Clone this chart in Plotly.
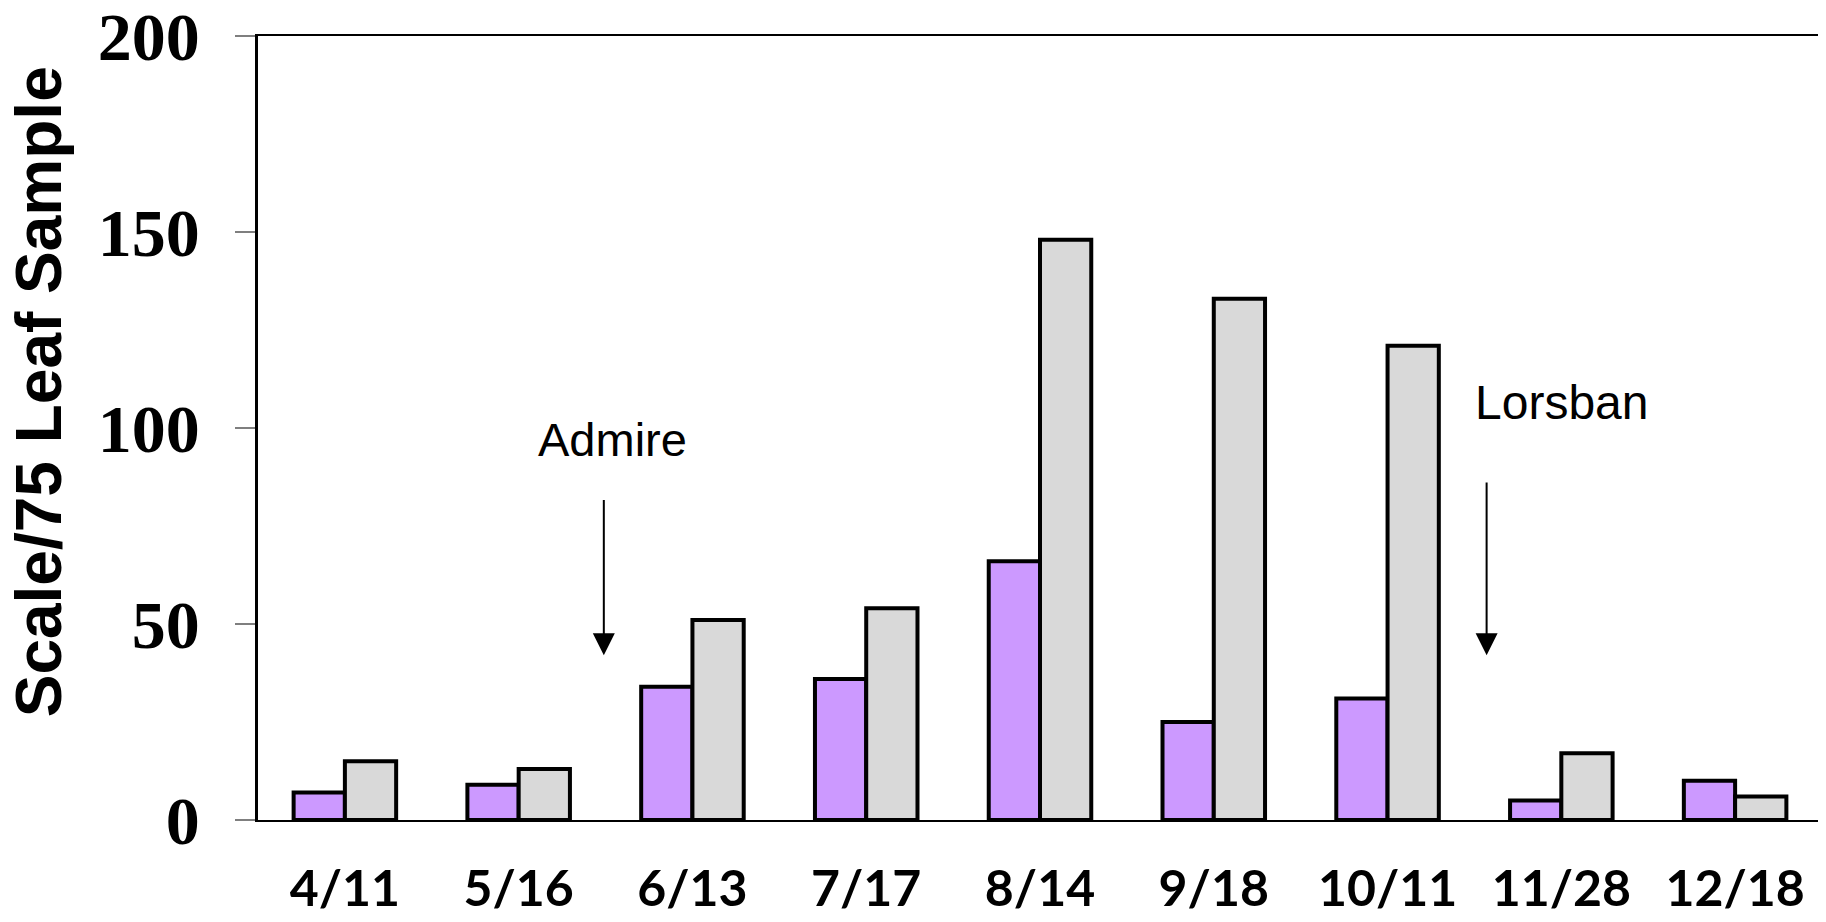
import plotly.graph_objects as go

dates = ["4/11", "5/16", "6/13", "7/17", "8/14", "9/18", "10/11", "11/28", "12/18"]
series_a = [7, 9, 34, 36, 66, 25, 31, 5, 10]
series_b = [15, 13, 51, 54, 148, 133, 121, 17, 6]
y_ticks = [0, 50, 100, 150, 200]

xs = list(range(len(dates)))

fig = go.Figure()
fig.add_trace(go.Bar(x=xs, y=series_a, marker=dict(color="#CC99FF", line=dict(color="black", width=4)), showlegend=False))
fig.add_trace(go.Bar(x=xs, y=series_b, marker=dict(color="#D9D9D9", line=dict(color="black", width=4)), showlegend=False))

fig.update_layout(
    width=1818, height=914,
    margin=dict(l=250, r=4, t=28, b=102),
    paper_bgcolor="white", plot_bgcolor="white",
    barmode="group", bargap=0.41, bargroupgap=0,
    xaxis=dict(
        automargin=False,
        range=[-0.5, len(dates) - 0.5],
        tickvals=xs, ticktext=dates,
        showline=True, linecolor="black", linewidth=2, mirror=True,
        showgrid=False, zeroline=False, ticks="",
        ticklabelstandoff=24, ticklabeloverflow="allow",
        tickfont=dict(family="Lato", size=50, color="black", weight="bold"),
    ),
    yaxis=dict(
        automargin=False,
        range=[0, 200], tickvals=y_ticks,
        showline=True, linecolor="black", linewidth=2.5, mirror=True,
        showgrid=False, zeroline=False,
        ticks="outside", ticklen=20, tickcolor="#7f7f7f", tickwidth=1.5,
        ticklabelstandoff=22, ticklabeloverflow="allow",
        tickfont=dict(family="Liberation Serif", size=68, color="black", weight="bold"),
    ),
)

fig.add_annotation(
    text="Scale/75 Leaf Sample", textangle=-90,
    xref="paper", yref="paper", x=-0.1395, y=0.5466,
    xanchor="center", yanchor="middle", showarrow=False,
    font=dict(family="Liberation Sans", size=64, color="black", weight="bold"),
)

# treatment labels and arrows
fig.add_annotation(text="Admire", x=1.54, y=97, xref="x", yref="y", showarrow=False,
                   font=dict(family="Liberation Sans", size=47, color="black"))
fig.add_annotation(text="", x=1.49, y=42, ax=1.49, ay=82, xref="x", yref="y", axref="x", ayref="y",
                   showarrow=True, arrowhead=2, arrowsize=2.2, arrowwidth=2, arrowcolor="black")
fig.add_annotation(text="Lorsban", x=7.0, y=106.5, xref="x", yref="y", showarrow=False,
                   font=dict(family="Liberation Sans", size=48, color="black"))
fig.add_annotation(text="", x=6.57, y=42, ax=6.57, ay=86.5, xref="x", yref="y", axref="x", ayref="y",
                   showarrow=True, arrowhead=2, arrowsize=2.2, arrowwidth=2, arrowcolor="black")

fig.write_html("out.html")
